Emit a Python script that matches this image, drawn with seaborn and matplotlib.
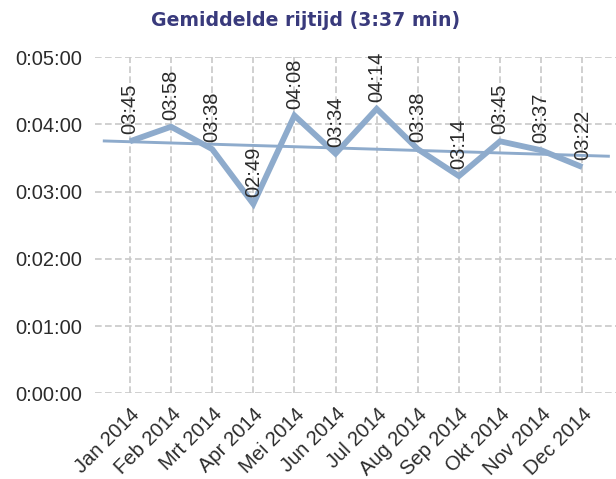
import numpy as np
import pandas as pd
import matplotlib
matplotlib.use("Agg")
import matplotlib.pyplot as plt
from matplotlib.ticker import FuncFormatter
import seaborn as sns

# ---- data ----
months = ["Jan 2014", "Feb 2014", "Mrt 2014", "Apr 2014", "Mei 2014", "Jun 2014",
          "Jul 2014", "Aug 2014", "Sep 2014", "Okt 2014", "Nov 2014", "Dec 2014"]
labels = ["03:45", "03:58", "03:38", "02:49", "04:08", "03:34",
          "04:14", "03:38", "03:14", "03:45", "03:37", "03:22"]
seconds = [225, 238, 218, 169, 248, 214, 254, 218, 194, 225, 217, 202]
title = "Gemiddelde rijtijd (3:37 min)"
yticks = [0, 60, 120, 180, 240, 300]

df = pd.DataFrame({"idx": np.arange(len(months)), "sec": seconds, "label": labels})

sns.set_theme(style="white")
plt.rcParams["font.family"] = ["Liberation Sans", "DejaVu Sans"]

LINE = "#8eabcc"
TXT = "#2b2b2b"
GRID = "#c8c8c8"

fig = plt.figure(figsize=(6.16, 4.79), dpi=100)
ax = fig.add_axes([95 / 616, 1 - 393.3 / 479, 521 / 616, (393.3 - 57.3) / 479])

# trend line (least squares)
slope, inter = np.polyfit(df["idx"], df["sec"], 1)
tx = np.array([-0.66, 11.67])
ax.plot(tx, inter + slope * tx, color=LINE, lw=2.1, zorder=3, solid_capstyle="butt")

sns.lineplot(data=df, x="idx", y="sec", ax=ax, color=LINE, lw=4.2, zorder=4,
             solid_joinstyle="miter", solid_capstyle="butt")

for _, r in df.iterrows():
    ax.annotate(r["label"], (r["idx"], r["sec"]), xytext=(0, 5), textcoords="offset points",
                rotation=90, ha="center", va="bottom", fontsize=14.5, color=TXT,
                annotation_clip=False, zorder=5)

ax.set_xlim(-0.85, 11.82)
ax.set_ylim(0, 300)
ax.set_yticks(yticks)
ax.yaxis.set_major_formatter(FuncFormatter(
    lambda v, p: f"{int(v)//3600}:{(int(v)%3600)//60:02d}:{int(v)%60:02d}"))
ax.set_xticks(df["idx"])
ax.set_xticklabels(months, rotation=45, ha="right", va="top", rotation_mode="anchor")
ax.tick_params(axis="both", length=0, labelsize=14.5, labelcolor=TXT)
ax.tick_params(axis="y", pad=9)
ax.tick_params(axis="x", pad=8)
ax.set_xlabel("")
ax.set_ylabel("")
for s in ax.spines.values():
    s.set_visible(False)
ax.grid(True, color=GRID, lw=1.2, linestyle=(0, (4, 2)))
ax.set_axisbelow(True)

fig.text(306 / 616, 1 - 20 / 479, title, ha="center", va="center",
         fontsize=13.6, fontweight="bold", color="#393a7c", family="DejaVu Sans")

fig.savefig("out.png", dpi=100)
